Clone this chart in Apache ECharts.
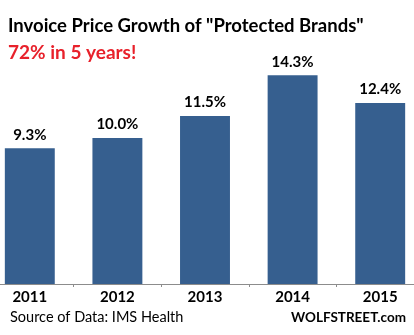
<!DOCTYPE html>
<html><head><meta charset="utf-8">
<script src="https://cdn.jsdelivr.net/npm/echarts@6/dist/echarts.min.js"></script>
<style>html,body{margin:0;padding:0;background:#fff;overflow:hidden;width:414px;height:335px}#c{position:absolute;left:-14px;top:0;width:438px;height:335px}</style>
</head><body><div id="c"></div>
<script>
const categories = ['2011','2012','2013','2014','2015'];
const growth = [9.3, 10.0, 11.5, 14.3, 12.4];
const titleText = 'Invoice Price Growth of "Protected Brands"';
const subtitleText = '72% in 5 years!';
const sourceText = 'Source of Data: IMS Health';
const brandText = 'WOLFSTREET.com';

const chart = echarts.init(document.getElementById('c'), null, {renderer:'canvas'});
const F = 'Lato, "Open Sans", sans-serif';
chart.setOption({
  animation:false,
  backgroundColor:'#fff',
  title:[
    {text:titleText, left:17, top:12, textStyle:{fontFamily:F, fontWeight:'bold', fontSize:18.5, color:'#000'}},
    {text:subtitleText, left:17, top:38, textStyle:{fontFamily:F, fontWeight:'bold', fontSize:19, color:'#e8212b'}},
    {text:sourceText, left:19, top:305, textStyle:{fontFamily:F, fontWeight:'normal', fontSize:14.5, color:'#000'}},
    {text:brandText, right:13, top:306, textStyle:{fontFamily:F, fontWeight:'bold', fontSize:13.5, color:'#000'}}
  ],
  grid:{left:0, right:0, top:50.4, bottom:51, containLabel:false},
  xAxis:{type:'category', data:categories,
    axisLine:{lineStyle:{color:'#8c8c8c', width:1}},
    axisTick:{show:true, length:3, lineStyle:{color:'#8c8c8c'}},
    axisLabel:{fontFamily:F, fontWeight:'bold', fontSize:15, color:'#000', margin:6}
  },
  yAxis:{type:'value', min:0, max:16, show:false, splitLine:{show:false}},
  series:[{type:'bar', data:growth, barWidth:'57%',
    itemStyle:{color:'#365f8f'},
    label:{show:true, position:'top', distance:6, formatter:p=>p.value.toFixed(1)+'%',
      fontFamily:F, fontWeight:'bold', fontSize:15, color:'#000'}
  }]
});
</script></body></html>
